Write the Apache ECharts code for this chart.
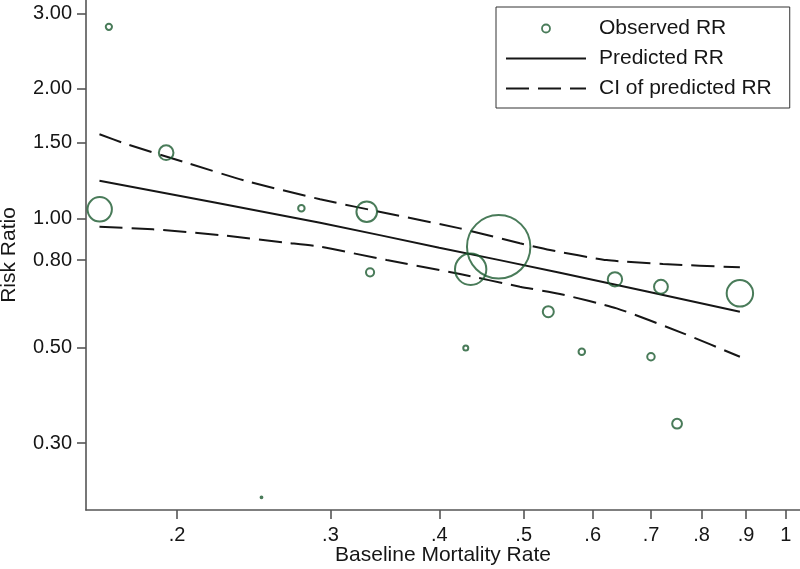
<!DOCTYPE html>
<html>
<head>
<meta charset="utf-8">
<script src="https://cdn.jsdelivr.net/npm/echarts@6/dist/echarts.min.js"></script>
<style>
html,body{margin:0;padding:0;background:#fff;}
#chart{width:800px;height:569px;}
</style>
</head>
<body>
<div id="chart"></div>
<script>
// Observed risk ratios (bubble weight = study weight)
const obsX = [0.163, 0.167, 0.1943, 0.2778, 0.3302, 0.3331, 0.250, 0.468, 0.4346, 0.6364, 0.7187, 0.8855, 0.5336, 0.429, 0.583, 0.700, 0.750];
const obsY = [1.05, 2.79, 1.422, 1.0556, 1.0366, 0.7493, 0.2245, 0.859, 0.7614, 0.7217, 0.6936, 0.6695, 0.6067, 0.4995, 0.4897, 0.4767, 0.333];
const obsWeight = [16.1, 1.3, 6.1, 1.4, 11.7, 2.1, 0.2, 103.7, 26.2, 5.9, 5.5, 18.8, 3.6, 0.9, 1.4, 1.8, 2.9];

// Predicted risk ratio
const predX = [0.1629, 0.2919, 0.40, 0.5503, 0.8855];
const predY = [1.224, 0.977, 0.855, 0.7477, 0.6067];

// Confidence interval of predicted RR
const ciUpperX = [0.1629, 0.1748, 0.2048, 0.240, 0.2919, 0.3481, 0.4225, 0.4951, 0.536, 0.6226, 0.7225, 0.8855];
const ciUpper  = [1.569, 1.490, 1.348, 1.222, 1.108, 1.028, 0.948, 0.875, 0.8443, 0.800, 0.7833, 0.7696];
const ciLowerX = [0.1629, 0.1876, 0.2237, 0.2668, 0.2919, 0.3481, 0.4225, 0.4951, 0.5503, 0.6393, 0.7623, 0.8855];
const ciLower  = [0.9565, 0.9433, 0.915, 0.878, 0.8594, 0.800, 0.7425, 0.6936, 0.667, 0.6178, 0.5404, 0.4767];

// Tick values / labels
const xTicks = [0.2, 0.3, 0.4, 0.5, 0.6, 0.7, 0.8, 0.9, 1];
const xTickLabels = ['.2', '.3', '.4', '.5', '.6', '.7', '.8', '.9', '1'];
const yTicks = [0.30, 0.50, 0.80, 1.00, 1.50, 2.00, 3.00];
const yTickLabels = ['0.30', '0.50', '0.80', '1.00', '1.50', '2.00', '3.00'];

const lg = Math.log10;
const pairs = (xs, ys) => xs.map((x, i) => [lg(x), lg(ys[i])]);
const labelFor = (ticks, labels) => (v) => {
  for (let i = 0; i < ticks.length; i++) if (Math.abs(lg(ticks[i]) - v) < 1e-6) return labels[i];
  return '';
};

const GREEN = '#1b5a30';
const AXIS = '#555555';
const TEXT = '#161616';
const LINE = '#161616';
const FONT = '"Liberation Sans", Arial, Helvetica, sans-serif';

const chart = echarts.init(document.getElementById('chart'), null, {renderer: 'canvas'});
chart.setOption({
  animation: false,
  backgroundColor: '#fff',
  textStyle: {fontFamily: FONT},
  grid: {left: 86, right: 0, top: 0, bottom: 59, containLabel: false, outerBoundsMode: 'none'},
  legend: {
    left: 496, top: 7, orient: 'vertical',
    padding: [10, 18, 8, 9],
    itemWidth: 80, itemHeight: 8, itemGap: 7,
    borderColor: '#333', borderWidth: 1, borderRadius: 0,
    textStyle: {fontFamily: FONT, fontSize: 21, color: TEXT, lineHeight: 23, padding: [0, 0, 0, 8]},
    data: [
      {name: 'Observed RR', icon: 'circle', itemStyle: {color: 'transparent', borderColor: GREEN, borderWidth: 1.8}},
      {name: 'Predicted RR', itemStyle: {opacity: 0}},
      {name: 'CI of predicted RR', itemStyle: {opacity: 0}}
    ]
  },
  xAxis: {
    type: 'value',
    min: lg(0.1572), max: lg(1.038),
    name: 'Baseline Mortality Rate', nameLocation: 'middle', nameGap: 35, nameMoveOverlap: false,
    nameTextStyle: {fontFamily: FONT, fontSize: 21, color: TEXT},
    axisLine: {show: true, onZero: false, lineStyle: {color: AXIS, width: 1.6}},
    axisTick: {show: true, length: 9, lineStyle: {color: AXIS, width: 1.6}, customValues: xTicks.map(lg)},
    axisLabel: {fontFamily: FONT, fontSize: 20, color: TEXT, margin: 15, customValues: xTicks.map(lg), formatter: labelFor(xTicks, xTickLabels)},
    splitLine: {show: false}
  },
  yAxis: {
    type: 'value',
    min: lg(0.2098), max: lg(3.221),
    name: 'Risk Ratio', nameLocation: 'middle', nameGap: 66, nameMoveOverlap: false,
    nameTextStyle: {fontFamily: FONT, fontSize: 21, color: TEXT},
    axisLine: {show: true, onZero: false, lineStyle: {color: AXIS, width: 1.6}},
    axisTick: {show: true, length: 9, lineStyle: {color: AXIS, width: 1.6}, customValues: yTicks.map(lg)},
    axisLabel: {fontFamily: FONT, fontSize: 20, color: TEXT, margin: 14, customValues: yTicks.map(lg), formatter: labelFor(yTicks, yTickLabels)},
    splitLine: {show: false}
  },
  series: [
    {
      name: 'Observed RR', type: 'scatter', z: 5,
      data: obsX.map((x, i) => [lg(x), lg(obsY[i]), obsWeight[i]]),
      symbol: 'circle',
      symbolSize: (v) => Math.max(1.5, 2 * Math.sqrt(10 * v[2]) - 1),
      itemStyle: {color: 'transparent', borderColor: GREEN, borderWidth: 2}
    },
    {
      name: 'Predicted RR', type: 'line', z: 3, symbol: 'none', smooth: 0.2,
      data: pairs(predX, predY),
      itemStyle: {color: LINE},
      lineStyle: {color: LINE, width: 2}
    },
    {
      name: 'CI of predicted RR', type: 'line', z: 3, symbol: 'none', smooth: 0.2,
      data: pairs(ciUpperX, ciUpper),
      itemStyle: {color: LINE},
      lineStyle: {color: LINE, width: 2, type: [23, 9]}
    },
    {
      name: 'CI of predicted RR', type: 'line', z: 3, symbol: 'none', smooth: 0.2,
      data: pairs(ciLowerX, ciLower),
      itemStyle: {color: LINE},
      lineStyle: {color: LINE, width: 2, type: [23, 9]}
    }
  ]
});
</script>
</body>
</html>
